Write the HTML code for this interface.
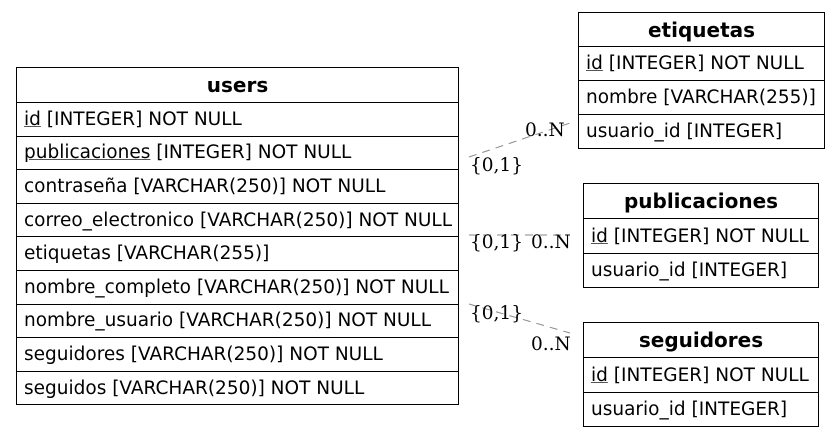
<!DOCTYPE html>
<html><head><meta charset="utf-8"><style>
body{margin:0;width:840px;height:437px;background:#fff;position:relative;overflow:hidden;font-family:"DejaVu Sans","Liberation Sans",sans-serif;font-size:18.5px;color:#000}
.t{position:absolute;border:1px solid #000;box-sizing:border-box}
.r{border-top:1px solid #000;box-sizing:border-box;padding-left:7px;white-space:nowrap;display:flex;align-items:center}
.h{font-weight:bold;justify-content:center;padding-left:0;border-top:none;font-size:20px}
u{text-decoration-color:#555}
.l{position:absolute;font-family:"DejaVu Serif","Liberation Serif",serif;font-size:18.5px;white-space:nowrap}
</style></head><body>
<svg style="position:absolute;left:0;top:0" width="840" height="437">
<g stroke="#888" stroke-dasharray="8,6" fill="none">
<line x1="469" y1="157" x2="570" y2="123"/>
<line x1="469" y1="235" x2="570" y2="235"/>
<line x1="469" y1="304" x2="570" y2="333"/>
</g></svg>
<div class="t" style="left:16px;top:67px;width:443px;height:338px">
<div class="r h" style="height:34px">users</div>
<div class="r" style="height:33.6px"><span><u>id</u> [INTEGER] NOT NULL</span></div>
<div class="r" style="height:33.6px"><span><u>publicaciones</u> [INTEGER] NOT NULL</span></div>
<div class="r" style="height:33.6px">contraseña [VARCHAR(250)] NOT NULL</div>
<div class="r" style="height:33.6px">correo_electronico [VARCHAR(250)] NOT NULL</div>
<div class="r" style="height:33.6px">etiquetas [VARCHAR(255)]</div>
<div class="r" style="height:33.6px">nombre_completo [VARCHAR(250)] NOT NULL</div>
<div class="r" style="height:33.6px">nombre_usuario [VARCHAR(250)] NOT NULL</div>
<div class="r" style="height:33.6px">seguidores [VARCHAR(250)] NOT NULL</div>
<div class="r" style="height:33.6px">seguidos [VARCHAR(250)] NOT NULL</div>
</div>
<div class="t" style="left:578px;top:12px;width:247px;height:137px">
<div class="r h" style="height:33px">etiquetas</div>
<div class="r" style="height:34px"><span><u>id</u> [INTEGER] NOT NULL</span></div>
<div class="r" style="height:34px">nombre [VARCHAR(255)]</div>
<div class="r" style="height:34px">usuario_id [INTEGER]</div>
</div>
<div class="t" style="left:583px;top:183px;width:236px;height:105px">
<div class="r h" style="height:34px">publicaciones</div>
<div class="r" style="height:35px"><span><u>id</u> [INTEGER] NOT NULL</span></div>
<div class="r" style="height:34px">usuario_id [INTEGER]</div>
</div>
<div class="t" style="left:583px;top:322px;width:236px;height:105px">
<div class="r h" style="height:34px">seguidores</div>
<div class="r" style="height:35px"><span><u>id</u> [INTEGER] NOT NULL</span></div>
<div class="r" style="height:34px">usuario_id [INTEGER]</div>
</div>
<div class="l" style="left:525px;top:120px">0..N</div>
<div class="l" style="left:470px;top:155px">{0,1}</div>
<div class="l" style="left:470px;top:232px">{0,1}</div>
<div class="l" style="left:531px;top:232px">0..N</div>
<div class="l" style="left:470px;top:303px">{0,1}</div>
<div class="l" style="left:531px;top:334px">0..N</div>
</body></html>
